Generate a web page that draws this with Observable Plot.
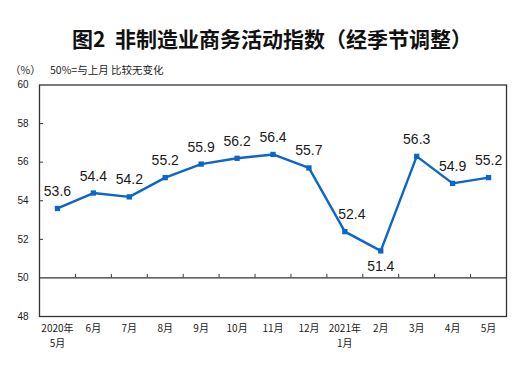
<!DOCTYPE html>
<html>
<head>
<meta charset="utf-8">
<script src="https://cdn.jsdelivr.net/npm/d3@7"></script>
<script src="https://cdn.jsdelivr.net/npm/@observablehq/plot@0.6"></script>
<style>
  html, body { margin: 0; padding: 0; background: #fff; }
  #wrap { position: relative; width: 520px; height: 365px; overflow: hidden; }
  #chart { position: absolute; left: 0; top: 0; }
  .title { position: absolute; left: 12px; width: 520px; top: 25px; text-align: center;
           font-family: "Noto Sans CJK SC", sans-serif; font-weight: bold; font-size: 21px;
           line-height: 26px; color: #111; }
  .sub { position: absolute; top: 63px; font-family: "Noto Sans CJK SC", sans-serif;
         font-size: 10.5px; line-height: 14px; color: #222; }
</style>
</head>
<body>
<div id="wrap">
  <div id="chart"></div>
  <div class="title">图2&nbsp; 非制造业商务活动指数（经季节调整）</div>
  <div class="sub" style="left:10px;">（%）</div>
  <div class="sub" style="left:50px;">50%=与上月 比较无变化</div>
</div>
<script>
const months = ["2020年\n5月", "6月", "7月", "8月", "9月", "10月", "11月", "12月", "2021年\n1月", "2月", "3月", "4月", "5月"];
const values = [53.6, 54.4, 54.2, 55.2, 55.9, 56.2, 56.4, 55.7, 52.4, 51.4, 56.3, 54.9, 55.2];
const yTicks = [48, 50, 52, 54, 56, 58, 60];
const baseline = 50;

const data = months.map((m, i) => {
  const parts = m.split("\n");
  return {i, line1: parts[0], line2: parts[1] || "", value: values[i]};
});
const minValue = d3.min(values);
const boundaries = d3.range(months.length - 1).map(i => i + 0.5);
const innerTicks = yTicks.filter(t => t !== 48 && t !== 60 && t !== baseline);

const W = 520, H = 365, mL = 39, mR = 14, mT = 84.5, mB = 49;
const unitX = (W - mL - mR) / months.length;
const unitY = (H - mT - mB) / 12;

const blue = "#0a66c8";
const ink = "#1a1a1a";
const cjk = "'Noto Sans CJK SC', 'Liberation Sans', sans-serif";

const chart = Plot.plot({
  width: W,
  height: H,
  marginLeft: mL,
  marginRight: mR,
  marginTop: mT,
  marginBottom: mB,
  style: {fontFamily: "'Liberation Sans', Arial, sans-serif", fontSize: "10px", color: ink, background: "#fff"},
  x: {domain: [-0.5, months.length - 0.5], axis: null},
  y: {domain: [48, 60], ticks: yTicks, tickSize: 0, tickPadding: 11, label: null, tickFormat: d => String(d)},
  marks: [
    Plot.ruleY([baseline], {stroke: "#333", strokeWidth: 1.2}),
    Plot.ruleX(boundaries, {x: d => d, y1: baseline, y2: baseline + 3.5 / unitY, stroke: "#333", strokeWidth: 1}),
    Plot.ruleY(innerTicks, {y: d => d, x1: -0.5, x2: -0.5 + 4 / unitX, stroke: "#333", strokeWidth: 1}),
    Plot.frame({stroke: "#333", strokeWidth: 1.3}),
    Plot.line(data, {x: "i", y: "value", stroke: blue, strokeWidth: 2.4}),
    Plot.dot(data, {x: "i", y: "value", symbol: "square", r: 3, fill: blue, stroke: "none"}),
    Plot.text(data.filter(d => d.value !== minValue && d.i !== 8), {x: "i", y: "value", text: d => d.value.toFixed(1), dy: -17, fontSize: 14, fill: ink}),
    Plot.text(data.filter(d => d.i === 8), {x: "i", y: "value", text: d => d.value.toFixed(1), dy: -17, dx: 7, fontSize: 14, fill: ink}),
    Plot.text(data.filter(d => d.value === minValue), {x: "i", y: "value", text: d => d.value.toFixed(1), dy: 16, fontSize: 14, fill: ink}),
    Plot.text(data, {x: "i", text: "line1", frameAnchor: "bottom", dy: 15, fontSize: 10, fill: ink, fontFamily: cjk}),
    Plot.text(data.filter(d => d.line2), {x: "i", text: "line2", frameAnchor: "bottom", dy: 30, fontSize: 10, fill: ink, fontFamily: cjk})
  ]
});
document.getElementById("chart").appendChild(chart);
</script>
</body>
</html>
